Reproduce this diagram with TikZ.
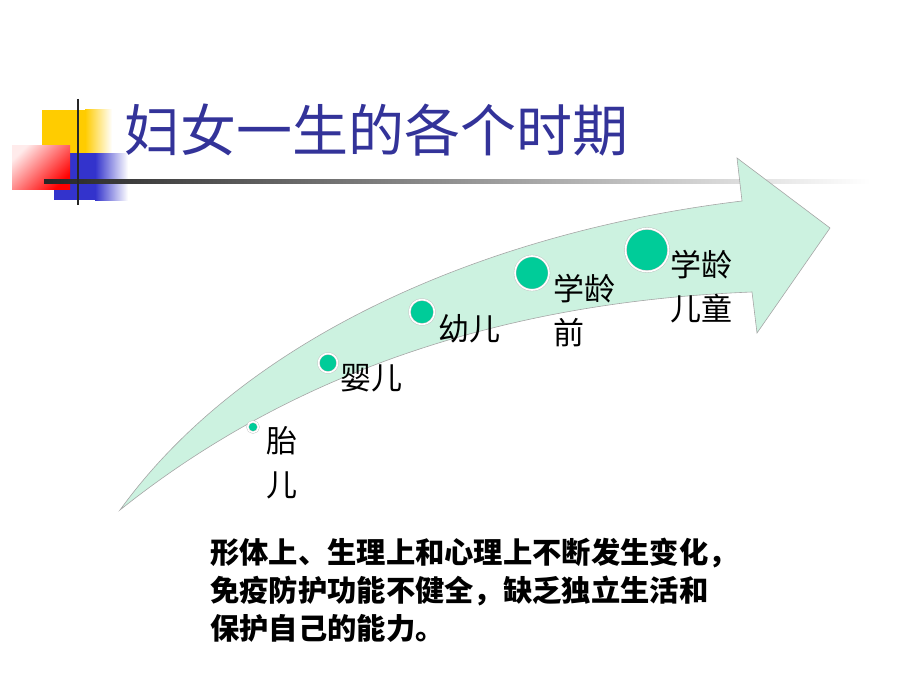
\documentclass[tikz,border=0pt]{standalone}
\usepackage{fontspec}
\setmainfont{Noto Sans CJK SC}
\usetikzlibrary{positioning,shadings}

\definecolor{titleblue}{RGB}{51,51,153}
\definecolor{mint}{RGB}{204,242,224}
\definecolor{dotgreen}{RGB}{0,204,153}
\definecolor{sqyellow}{RGB}{255,204,0}
\definecolor{sqblue}{RGB}{51,51,204}

\tikzset{
  stage/.style={circle, fill=dotgreen, draw=black!25, line width=0.4pt,
    double=white, double distance=1.6pt, inner sep=0pt},
  lbl/.style={anchor=north west, inner sep=0pt, align=left,
    font=\fontsize{31}{44}\selectfont},
}

\begin{document}
\begin{tikzpicture}[x=1pt, y=-1pt]
    \useasboundingbox (0,0) rectangle (920,690);
    % corner squares
    \fill[sqyellow] (42,110) rectangle (85,153);
    \shade[left color=sqyellow, right color=white] (85,110) rectangle (112,153);
    \fill[sqblue] (54,153) rectangle (95,200);
    \shade[left color=sqblue, right color=white] (95,153) rectangle (128,200);
    \shade[top color=red!8, bottom color=red, shading angle=45]
        (12,145) rectangle (70,189);
    \shade[left color=black!85, right color=white] (44,179) rectangle (870,183);
    \draw[line width=2.5pt, black!85] (78,99) -- (78,205);

    % title
    \node[anchor=west, inner sep=0pt, text=titleblue, font=\fontsize{56}{60}\selectfont]
        (title) at (124,130) {妇女一生的各个时期};

    % the big arrow
    \draw[fill=mint, draw=black!35, line width=0.6pt]
        (120,510) .. controls (250,330) and (500,230) .. (742,201)
        -- (737,158) -- (830,228) -- (757,333) -- (752,292)
        .. controls (550,300) and (320,350) .. (120,510) -- cycle;

    % stages
    \node[stage, minimum size=11pt] (fetus)  at (253,427) {};
    \node[stage, minimum size=19pt] (infant) at (328,363) {};
    \node[stage, minimum size=25pt] (baby)   at (422,312) {};
    \node[stage, minimum size=34pt] (pre)    at (532,273) {};
    \node[stage, minimum size=43pt] (school) at (647,250) {};

    \node[lbl] (fetuslbl)  at (266,426) {胎\\儿};
    \node[lbl] (infantlbl) at (340,364) {婴儿};
    \node[lbl] (babylbl)   at (438,314) {幼儿};
    \node[lbl] (prelbl)    at (553,274) {学龄\\前};
    \node[lbl] (schoollbl) at (670,250) {学龄\\儿童};

    % note
    \node[anchor=north west, inner sep=0pt, align=left,
          font=\fontsize{29.3}{38}\selectfont\bfseries] (note) at (210,538)
        {形体上、生理上和心理上不断发生变化，\\
         免疫防护功能不健全，缺乏独立生活和\\
         保护自己的能力。};
\end{tikzpicture}
\end{document}
